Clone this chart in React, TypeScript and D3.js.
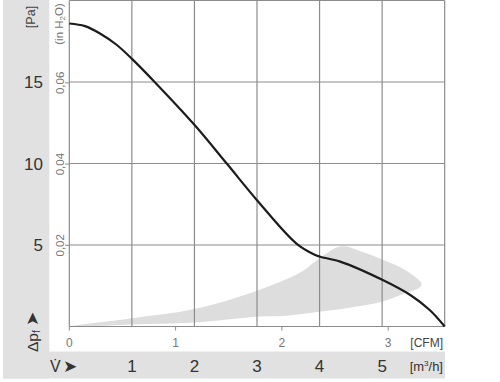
import React from "react";
import * as d3 from "d3";

// Characteristic curve: flow [m³/h], pressure [Pa]
const curveFlow = [0, 0.25, 0.49, 0.75, 1.01, 1.36, 2.01, 2.52, 3.0, 3.63, 3.93, 4.01, 4.33, 5.01, 5.45, 5.76, 6.0];
const curvePa = [18.59, 18.43, 17.98, 17.3, 16.39, 15.02, 12.33, 9.98, 7.75, 5.09, 4.39, 4.28, 3.98, 2.85, 1.93, 1.01, 0.0];

// Shaded operating area (outline, clockwise): flow [m³/h], pressure [Pa]
const areaFlow = [0, 1.01, 2.0, 3.0, 3.69, 4.0, 4.35, 4.69, 5.02, 5.37, 5.63, 5.3, 4.99, 4.5, 4.0, 3.4, 2.99, 2.0, 1.01, 0];
const areaPa = [0, 0.51, 1.07, 2.2, 3.31, 4.19, 4.92, 4.57, 4.08, 3.46, 2.55, 1.95, 1.52, 1.17, 0.91, 0.64, 0.6, 0.245, 0.12, 0];

const paTicks = [5, 10, 15];
const inH2OTicks = [0.02, 0.04, 0.06];
const cfmTicks = [0, 1, 2, 3];
const m3hTicks = [1, 2, 3, 4, 5];
const gridFlow = [0, 1, 2, 3, 4, 5, 6];
const gridPa = [0, 5, 10, 15, 20];

const PA_PER_INH2O = 249.09;
const M3H_PER_CFM = 1.699;

export default function App() {
  const x = d3.scaleLinear().domain([0, 6]).range([69.3, 444.7]);
  const y = d3.scaleLinear().domain([0, 20]).range([326.5, 0.5]);
  const font = "'Liberation Sans', Arial, Helvetica, sans-serif";
  const bg = "#e1e1e1";
  const grid = "#8c8c8c";

  const line = d3
    .line<number>()
    .x((i) => x(curveFlow[i]))
    .y((i) => y(curvePa[i]))
    .curve(d3.curveCatmullRom.alpha(0.5));
  const area = d3
    .line<number>()
    .x((i) => x(areaFlow[i]))
    .y((i) => y(areaPa[i]))
    .curve(d3.curveCatmullRomClosed.alpha(0.5));

  const [x0, x1] = x.range();
  const [yb, yt] = y.range();

  return (
    <div style={{ position: "fixed", left: 0, top: 0 }}>
      <svg width={500} height={382} style={{ display: "block", fontFamily: font }}>
        <rect x={0} y={0} width={500} height={382} fill="#fff" />
        {/* gray L band */}
        <rect x={3} y={0} width={46.3} height={378.5} fill={bg} />
        <rect x={3} y={351.5} width={442} height={27} fill={bg} />

        {/* shaded area */}
        <path d={area(d3.range(areaFlow.length - 1)) || ""} fill="#dddddd" stroke="none" />

        {/* grid */}
        {gridFlow.map((f) => (
          <line key={"v" + f} x1={x(f)} x2={x(f)} y1={yt} y2={yb} stroke={grid} strokeWidth={1.2} />
        ))}
        {gridPa.map((p) => (
          <line key={"h" + p} x1={x0} x2={x1} y1={y(p)} y2={y(p)} stroke={grid} strokeWidth={1.2} />
        ))}

        {/* curve */}
        <path
          d={line(d3.range(curveFlow.length)) || ""}
          fill="none"
          stroke="#1c1c1c"
          strokeWidth={2.2}
          strokeLinejoin="round"
        />

        {/* Pa labels */}
        {paTicks.map((p) => (
          <text key={"pa" + p} x={43} y={y(p) + 6} textAnchor="end" fontSize={17} fill="#333">
            {p}
          </text>
        ))}
        <text transform={`translate(35,17) rotate(-90)`} textAnchor="middle" fontSize={12.5} fill="#444">
          [Pa]
        </text>

        {/* inH2O labels */}
        {inH2OTicks.map((v) => {
          const yy = y(v * PA_PER_INH2O);
          return (
            <g key={"in" + v}>
              <line x1={65} x2={x0} y1={yy} y2={yy} stroke={grid} strokeWidth={1} />
              <text transform={`translate(64,${yy}) rotate(-90)`} textAnchor="middle" fontSize={11.5} fill="#777">
                {v.toFixed(2).replace(".", ",")}
              </text>
            </g>
          );
        })}
        <text transform={`translate(63,24) rotate(-90)`} textAnchor="middle" fontSize={11.5} fill="#777">
          (in H
          <tspan fontSize={8} dy={2}>2</tspan>
          <tspan dy={-2}>O)</tspan>
        </text>

        {/* Δpf arrow label */}
        <text transform={`translate(38,352) rotate(-90)`} textAnchor="start" fontSize={15.5} fill="#333">
          Δp
          <tspan fontSize={10} dy={2}>f</tspan>
          <tspan dy={-2} fontSize={17}> ➤</tspan>
        </text>

        {/* CFM ticks */}
        {cfmTicks.map((c) => {
          const xx = x(c * M3H_PER_CFM);
          return (
            <g key={"cfm" + c}>
              <line x1={xx} x2={xx} y1={yb} y2={yb + 4} stroke={grid} strokeWidth={1} />
              <text x={xx} y={347} textAnchor="middle" fontSize={12} fill="#777">
                {c}
              </text>
            </g>
          );
        })}
        <text x={443} y={347} textAnchor="end" fontSize={12} fill="#444">
          [CFM]
        </text>

        {/* m³/h row */}
        <text x={50} y={372} fontSize={16} fill="#333">
          V̇
        </text>
        <text x={63} y={372} fontSize={17} fill="#333">
          ➤
        </text>
        {m3hTicks.map((m) => (
          <text key={"m" + m} x={x(m)} y={372} textAnchor="middle" fontSize={17} fill="#333">
            {m}
          </text>
        ))}
        <text x={443} y={371} textAnchor="end" fontSize={13} fill="#333">
          [m
          <tspan fontSize={8} dy={-5}>3</tspan>
          <tspan dy={5}>/h]</tspan>
        </text>
      </svg>
    </div>
  );
}
